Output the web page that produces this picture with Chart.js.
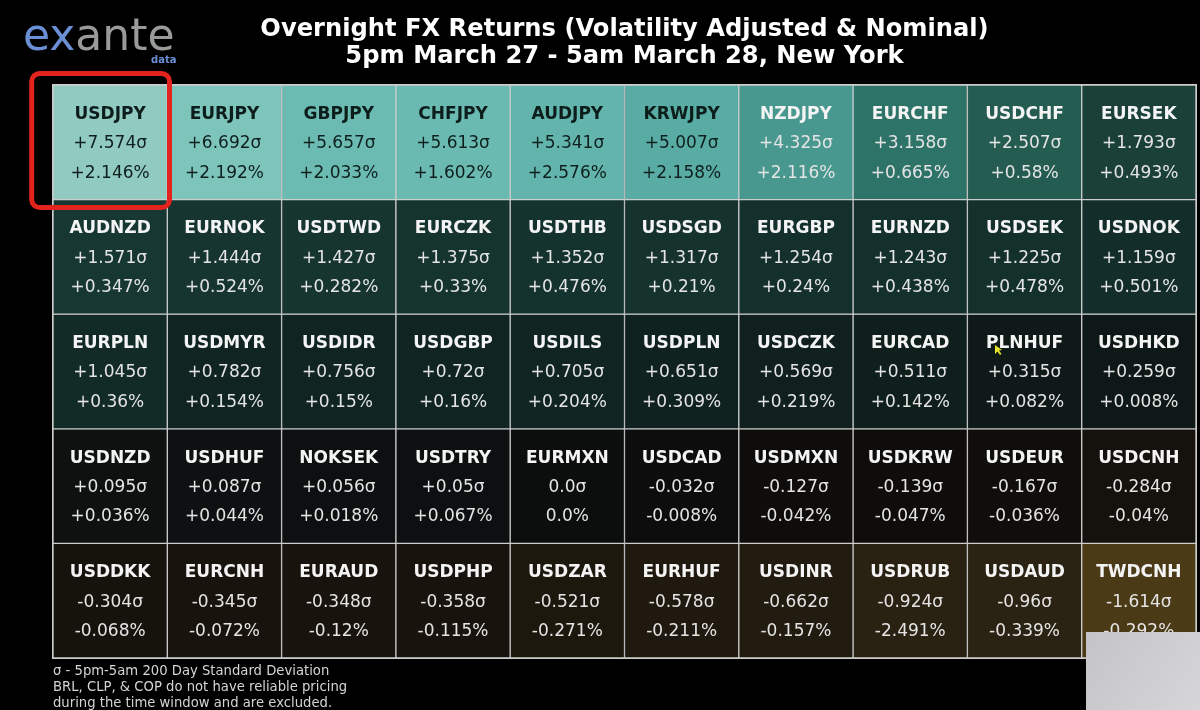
<!DOCTYPE html>
<html>
<head>
<meta charset="utf-8">
<script src="https://cdn.jsdelivr.net/npm/chart.js@4.4.1/dist/chart.umd.min.js"></script>
<style>
  html, body { margin: 0; padding: 0; background: #000; }
  #wrap { width: 1200px; height: 710px; position: relative; }
</style>
</head>
<body>
<div id="wrap"><canvas id="c" width="1200" height="710"></canvas></div>
<script>
// ---------------- DATA ----------------
const titleLines = [
  "Overnight FX Returns (Volatility Adjusted & Nominal)",
  "5pm March 27 - 5am March 28, New York"
];
const footnoteLines = [
  "\u03c3 - 5pm-5am 200 Day Standard Deviation",
  "BRL, CLP, & COP do not have reliable pricing",
  "during the time window and are excluded."
];
const columnLabels = ["1", "2", "3", "4", "5", "6", "7", "8", "9", "10"];
const rowLabels = ["1", "2", "3", "4", "5"];

const pairs = [
  "USDJPY", "EURJPY", "GBPJPY", "CHFJPY", "AUDJPY", "KRWJPY", "NZDJPY", "EURCHF", "USDCHF", "EURSEK",
  "AUDNZD", "EURNOK", "USDTWD", "EURCZK", "USDTHB", "USDSGD", "EURGBP", "EURNZD", "USDSEK", "USDNOK",
  "EURPLN", "USDMYR", "USDIDR", "USDGBP", "USDILS", "USDPLN", "USDCZK", "EURCAD", "PLNHUF", "USDHKD",
  "USDNZD", "USDHUF", "NOKSEK", "USDTRY", "EURMXN", "USDCAD", "USDMXN", "USDKRW", "USDEUR", "USDCNH",
  "USDDKK", "EURCNH", "EURAUD", "USDPHP", "USDZAR", "EURHUF", "USDINR", "USDRUB", "USDAUD", "TWDCNH"
];
const sigmaValues = [
  7.574, 6.692, 5.657, 5.613, 5.341, 5.007, 4.325, 3.158, 2.507, 1.793,
  1.571, 1.444, 1.427, 1.375, 1.352, 1.317, 1.254, 1.243, 1.225, 1.159,
  1.045, 0.782, 0.756, 0.72, 0.705, 0.651, 0.569, 0.511, 0.315, 0.259,
  0.095, 0.087, 0.056, 0.05, 0.0, -0.032, -0.127, -0.139, -0.167, -0.284,
  -0.304, -0.345, -0.348, -0.358, -0.521, -0.578, -0.662, -0.924, -0.96, -1.614
];
const pctValues = [
  2.146, 2.192, 2.033, 1.602, 2.576, 2.158, 2.116, 0.665, 0.58, 0.493,
  0.347, 0.524, 0.282, 0.33, 0.476, 0.21, 0.24, 0.438, 0.478, 0.501,
  0.36, 0.154, 0.15, 0.16, 0.204, 0.309, 0.219, 0.142, 0.082, 0.008,
  0.036, 0.044, 0.018, 0.067, 0.0, -0.008, -0.042, -0.047, -0.036, -0.04,
  -0.068, -0.072, -0.12, -0.115, -0.271, -0.211, -0.157, -2.491, -0.339, -0.292
];

// ---------------- STYLE ----------------
const posAnchors = [
  [0, [12, 14, 14]], [0.26, [14, 24, 23]], [0.72, [16, 36, 33]], [1.05, [18, 43, 39]],
  [1.35, [21, 51, 46]], [1.57, [23, 56, 50]], [1.79, [26, 64, 56]], [2.5, [36, 92, 82]],
  [3.16, [46, 115, 103]], [4.33, [72, 152, 143]], [5.0, [88, 172, 163]], [5.6, [106, 186, 178]],
  [6.7, [125, 196, 187]], [7.6, [145, 202, 193]]
];
const negAnchors = [
  [0, [12, 13, 13]], [0.14, [15, 13, 11]], [0.3, [22, 19, 13]], [0.6, [32, 26, 15]],
  [0.96, [42, 34, 18]], [1.614, [74, 58, 22]]
];
function interp(anchors, v) {
  if (v <= anchors[0][0]) return anchors[0][1];
  for (let i = 1; i < anchors.length; i++) {
    if (v <= anchors[i][0]) {
      const [a, ca] = anchors[i - 1], [b, cb] = anchors[i];
      const t = (v - a) / (b - a);
      return ca.map((c, k) => Math.round(c + (cb[k] - c) * t));
    }
  }
  return anchors[anchors.length - 1][1];
}
function cellColor(s) {
  const c = s >= 0 ? interp(posAnchors, s) : interp(negAnchors, -s);
  return `rgb(${c[0]},${c[1]},${c[2]})`;
}
function fmt(v, suffix) {
  if (v === 0) return "0.0" + suffix;
  return (v > 0 ? "+" : "") + String(v) + suffix;
}

const nCols = columnLabels.length;
const datasets = rowLabels.map((r, ri) => {
  const idx = columnLabels.map((_, ci) => ri * nCols + ci);
  return {
    label: "row " + r,
    data: idx.map(() => [ri, ri + 1]),
    backgroundColor: idx.map(i => cellColor(sigmaValues[i])),
    borderColor: "#cdcdcd",
    borderWidth: 1,
    borderSkipped: false,
    barPercentage: 1,
    categoryPercentage: 1,
    grouped: false,
    _cells: idx
  };
});

const FONT = "'DejaVu Sans', 'Noto Sans', sans-serif";

const decorPlugin = {
  id: "decor",
  afterDatasetsDraw(chart) {
    const ctx = chart.ctx;
    ctx.save();
    ctx.textAlign = "center";
    ctx.textBaseline = "alphabetic";
    chart.data.datasets.forEach((ds, di) => {
      const meta = chart.getDatasetMeta(di);
      meta.data.forEach((el, ci) => {
        const i = ds._cells[ci];
        const s = sigmaValues[i];
        const cx = el.x;
        const cy = (el.y + el.base) / 2;
        const light = s >= 4.5;
        ctx.fillStyle = light ? "#0d1d1b" : "#f4f4f4";
        ctx.font = "bold 17px " + FONT;
        ctx.fillText(pairs[i], cx, cy - 23.5);
        ctx.fillStyle = light ? "#0f1f1d" : "#e4e4e4";
        ctx.font = "17px " + FONT;
        ctx.fillText(fmt(s, "\u03c3"), cx, cy + 5.8);
        ctx.fillText(fmt(pctValues[i], "%"), cx, cy + 35.3);
      });
    });
    ctx.restore();
  },
  afterDraw(chart) {
    const ctx = chart.ctx;
    const a = chart.chartArea;
    ctx.save();
    // outer border
    ctx.strokeStyle = "#cdcdcd";
    ctx.lineWidth = 1;
    ctx.strokeRect(a.left - 0.5, a.top - 0.5, a.right - a.left + 1, a.bottom - a.top + 1);

    // title
    ctx.fillStyle = "#ffffff";
    ctx.textAlign = "center";
    ctx.textBaseline = "alphabetic";
    ctx.font = "bold 24.2px " + FONT;
    const tx = (a.left + a.right) / 2;
    ctx.fillText(titleLines[0], tx, 36);
    ctx.fillText(titleLines[1], tx, 62.5);

    // logo
    ctx.textAlign = "left";
    ctx.font = "44px " + FONT;
    ctx.fillStyle = "#6a8fd4";
    ctx.fillText("ex", 23, 50);
    const w = ctx.measureText("ex").width;
    ctx.fillStyle = "#9a9a9a";
    ctx.fillText("ante", 23 + w, 50);
    ctx.font = "bold 10px " + FONT;
    ctx.fillStyle = "#6a8fd4";
    ctx.fillText("data", 151, 63);

    // footnote
    ctx.font = "13.2px " + FONT;
    ctx.fillStyle = "#d4d4d4";
    footnoteLines.forEach((t, k) => ctx.fillText(t, 53, 674.5 + k * 16));

    // red highlight frame
    ctx.strokeStyle = "#e3231d";
    ctx.lineWidth = 5;
    ctx.beginPath();
    ctx.roundRect(31.7, 73.5, 137.8, 134, 8);
    ctx.stroke();

    // cursor
    ctx.fillStyle = "#e6e62a";
    ctx.beginPath();
    ctx.moveTo(995, 345); ctx.lineTo(995, 354); ctx.lineTo(997.5, 351.5);
    ctx.lineTo(1000, 355); ctx.lineTo(1001.5, 354); ctx.lineTo(999, 350.5); ctx.lineTo(1002, 350);
    ctx.closePath(); ctx.fill();

    // grey overlay box bottom-right
    const g = ctx.createLinearGradient(1086, 632, 1200, 710);
    g.addColorStop(0, "#c4c4c8");
    g.addColorStop(1, "#d6d6da");
    ctx.fillStyle = g;
    ctx.fillRect(1086, 632, 114, 78);
    ctx.restore();
  }
};

new Chart(document.getElementById("c"), {
  type: "bar",
  data: { labels: columnLabels, datasets },
  options: {
    responsive: false,
    animation: false,
    devicePixelRatio: 1,
    layout: { padding: { left: 53, right: 4, top: 85, bottom: 52 } },
    plugins: { legend: { display: false }, tooltip: { enabled: false }, title: { display: false } },
    scales: {
      x: { display: false, offset: true },
      y: { display: false, min: 0, max: 5, reverse: true }
    }
  },
  plugins: [decorPlugin]
});
</script>
</body>
</html>
